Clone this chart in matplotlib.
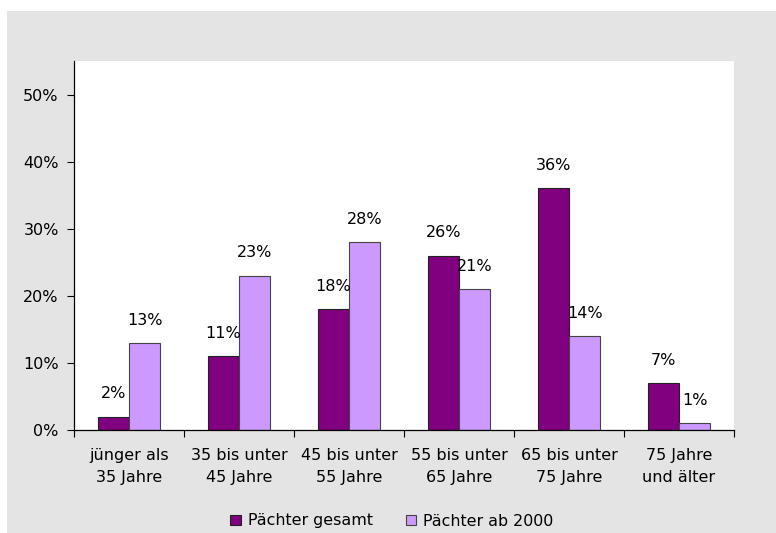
import matplotlib
matplotlib.use("Agg")
import matplotlib.pyplot as plt
from matplotlib.patches import Rectangle
import numpy as np

categories = ["jünger als\n35 Jahre", "35 bis unter\n45 Jahre", "45 bis unter\n55 Jahre",
              "55 bis unter\n65 Jahre", "65 bis unter\n75 Jahre", "75 Jahre\nund älter"]
gesamt = [2, 11, 18, 26, 36, 7]
ab2000 = [13, 23, 28, 21, 14, 1]
series_names = ["Pächter gesamt", "Pächter ab 2000"]
yticks = [0, 10, 20, 30, 40, 50]

plt.rcParams['font.family'] = ['DejaVu Sans']
FS_SMALL = 11.5
FS_BIG = 11.5
W, H = 776, 533
fig = plt.figure(figsize=(W/100, H/100), dpi=100)
fig.patch.set_facecolor('white')
fig.patches.append(Rectangle((7/W, 0), (W-7)/W, (H-11)/H, transform=fig.transFigure,
                             facecolor='#e4e4e4', edgecolor='none', zorder=-10))

ax = fig.add_axes([74/W, (H-430)/H, (734-74)/W, (430-61)/H])
ax.set_facecolor('white')
x = np.arange(len(categories))
bw = 0.283
c1, c2 = '#800080', '#cc99ff'
b1 = ax.bar(x - bw/2, gesamt, bw, color=c1, edgecolor='#222222', linewidth=0.8, label=series_names[0])
b2 = ax.bar(x + bw/2, ab2000, bw, color=c2, edgecolor='#444444', linewidth=0.8, label=series_names[1])
for bars, vals in ((b1, gesamt), (b2, ab2000)):
    for r, v in zip(bars, vals):
        ax.annotate(f"{v}%", (r.get_x() + r.get_width()/2, v), xytext=(0, 11),
                    textcoords='offset points', ha='center', va='bottom', fontsize=FS_SMALL)

ax.set_xlim(-0.5, len(categories) - 0.5)
ax.set_ylim(0, 55)
ax.set_yticks(yticks)
ax.set_yticklabels([f"{t}%" for t in yticks], fontsize=FS_SMALL)
ax.set_xticks(x)
ax.set_xticklabels(categories, fontsize=FS_BIG, linespacing=1.55)
ax.tick_params(axis='x', length=0, pad=13)
ax.set_xticks(np.arange(len(categories) + 1) - 0.5, minor=True)
ax.tick_params(axis='x', which='minor', length=5, direction='out', width=0.8)
ax.tick_params(axis='y', length=5, direction='out', width=0.8, pad=6)
for s in ('top', 'right'):
    ax.spines[s].set_visible(False)
for s in ('left', 'bottom'):
    ax.spines[s].set_linewidth(0.9)

fig.legend(handles=[b1, b2], loc='center', bbox_to_anchor=(0.505, (H-521)/H), ncol=2,
           frameon=False, fontsize=11.4, handlelength=0.65, handleheight=0.65,
           handletextpad=0.45, columnspacing=2.1)
fig.savefig("out.png", dpi=100)
